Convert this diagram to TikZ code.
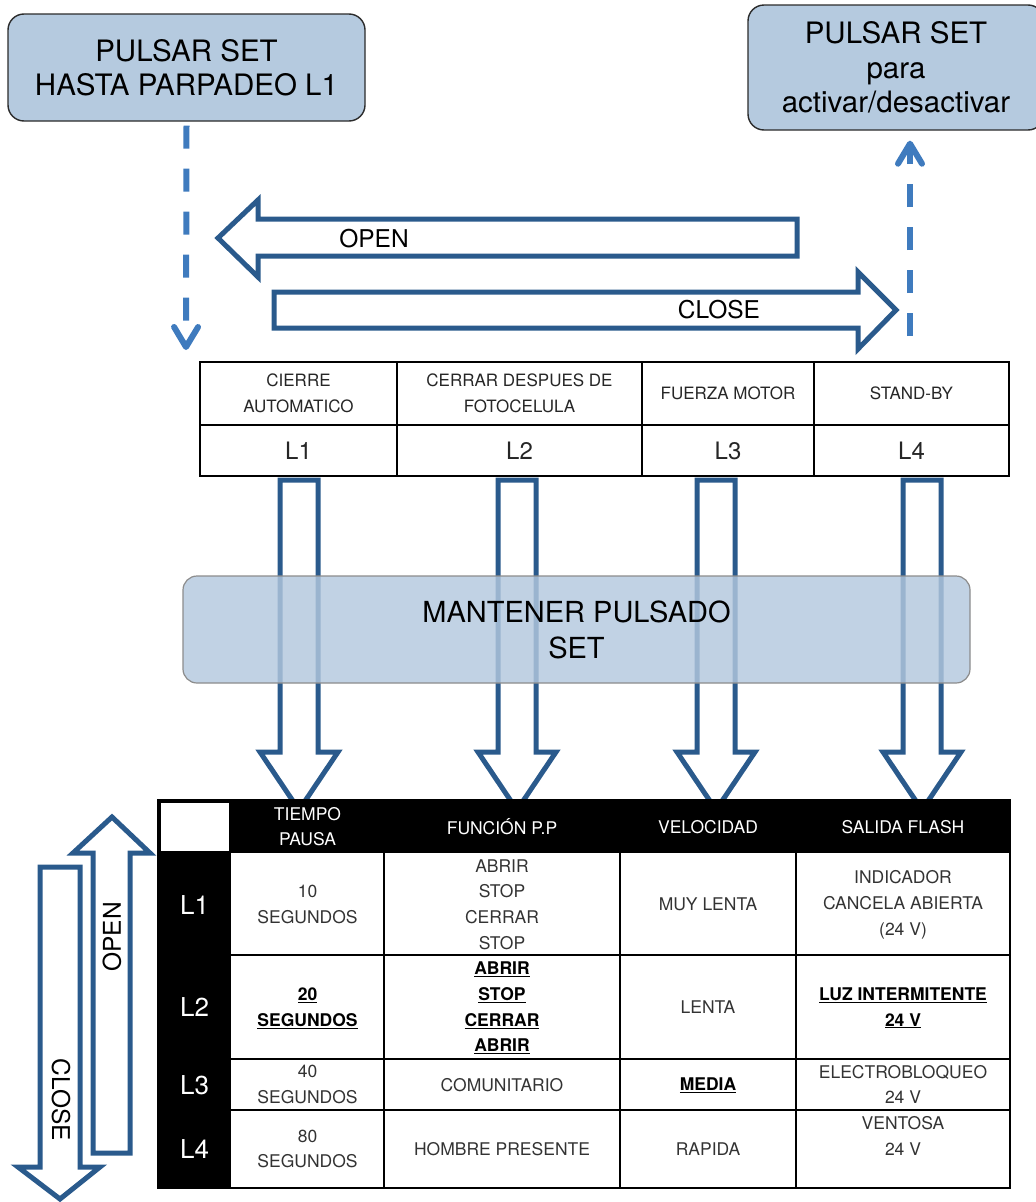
\documentclass[tikz,border=0pt]{standalone}
\usepackage{fontspec}
\setmainfont{TeX Gyre Heros}
\usetikzlibrary{arrows.meta}
\definecolor{boxfill}{HTML}{B5CADF}
\definecolor{boxline}{HTML}{2B2B2B}
\definecolor{arrowblue}{HTML}{2A5A8C}
\definecolor{dashblue}{HTML}{3F7BBE}
\definecolor{midfill}{HTML}{B3C8DE}
\definecolor{celltext}{HTML}{333333}
\tikzset{
  topbox/.style={draw=boxline, line width=1.4pt, fill=boxfill, rounded corners=16pt, align=center,
    font=\fontsize{29.5}{34.5}\selectfont, inner sep=0pt},
  dashconn/.style={draw=dashblue, line width=6pt, dash pattern=on 23pt off 20pt,
    -{Straight Barb[round, length=20pt, width=24pt, line width=6pt]}},
  blockarrow/.style={draw=arrowblue, line width=5pt, fill=white, line join=miter},
  arrowlbl/.style={font=\fontsize{24.5}{29}\selectfont, inner sep=0pt},
  midbox/.style={draw=black!45, line width=1.2pt, fill=midfill, fill opacity=0.82, text opacity=1,
    rounded corners=14pt, align=center, font=\fontsize{29}{36}\selectfont, inner sep=0pt,
    minimum width=787pt, minimum height=107pt},
  tophdr/.style={font=\fontsize{17}{26}\selectfont, align=center, text=black!85, inner sep=0pt},
  toplbl/.style={font=\fontsize{24}{28}\selectfont, text=black!85, inner sep=0pt},
  gridline/.style={line width=2pt, draw=black},
  hdrw/.style={font=\fontsize{17.5}{25}\selectfont, align=center, text=white, inner sep=0pt},
  rowlbl/.style={font=\fontsize{26}{28}\selectfont, text=white, inner sep=0pt},
  cell/.style={font=\fontsize{17.5}{25.7}\selectfont, align=center, text=celltext, inner sep=0pt},
  bcell/.style={font=\fontsize{17.5}{25.7}\selectfont\bfseries, align=center, text=black, inner sep=0pt},
}
\begin{document}
\begin{tikzpicture}[x=1pt, y=-1pt]
\useasboundingbox (0,0) rectangle (1036,1202);

% top boxes
\node[topbox, minimum width=357pt, minimum height=107pt] (tl) at (186.5,67.5) {PULSAR SET\\HASTA PARPADEO L1};
\node[topbox, minimum width=296pt, minimum height=125pt] (tr) at (896,67.5) {PULSAR SET\\para\\activar/desactivar};

% dashed connectors
\coordinate (ld) at (186,350);
\coordinate (rd) at (910,336);
\draw[dashconn] ([yshift=-4pt]tl.south) -- (ld);
\draw[dashconn, shorten >=10pt] (rd) -- (rd |- tr.south);

% OPEN / CLOSE horizontal arrows
\draw[blockarrow] (797,219) -- (258,219) -- (258,200) -- (218,238) -- (258,277) -- (258,256) -- (797,256) -- cycle;
\node[arrowlbl] (openh) at (374,239) {OPEN};
\draw[blockarrow] (274,292) -- (858,292) -- (858,272) -- (896,310) -- (858,349) -- (858,328) -- (274,328) -- cycle;
\node[arrowlbl] (closeh) at (719,310) {CLOSE};

% top table
\draw[gridline] (200,362) rectangle (1009,476);
\draw[gridline] (200,425) -- (1009,425);
\foreach \xx in {397,642,814} \draw[gridline] (\xx,362) -- (\xx,476);
\node[tophdr] (th1) at (298.5,393) {CIERRE\\AUTOMATICO};
\node[tophdr] (th2) at (519.5,393) {CERRAR DESPUES DE\\FOTOCELULA};
\node[tophdr] (th3) at (728,393) {FUERZA MOTOR};
\node[tophdr] (th4) at (911.5,393) {STAND-BY};
\node[toplbl] (tl1) at (298.5,451) {L1};
\node[toplbl] (tl2) at (519.5,451) {L2};
\node[toplbl] (tl3) at (728,451) {L3};
\node[toplbl] (tl4) at (911.5,451) {L4};

% vertical block arrows
\foreach \cx in {299,517,716,922}
  \draw[blockarrow] ({\cx-19},480) -- ({\cx+19},480) -- ({\cx+19},752) -- ({\cx+39},752)
     -- (\cx,810) -- ({\cx-39},752) -- ({\cx-19},752) -- cycle;

% middle box
\node[midbox] (mid) at (576.5,629.5) {MANTENER PULSADO\\SET};

% bottom table
\fill[black] (158,800) rectangle (1010,853);
\fill[black] (158,853) rectangle (231,1188);
\fill[white] (161,803) rectangle (229,851);
\draw[line width=2.5pt] (158,800) rectangle (1010,1188);
\foreach \yy in {955,1059,1110} \draw[line width=2.5pt] (231,\yy) -- (1010,\yy);
\foreach \xx in {384,620,796} \draw[line width=2.5pt] (\xx,853) -- (\xx,1188);

\node[hdrw] (hT) at (307.5,827) {TIEMPO\\PAUSA};
\node[hdrw] (hF) at (502,827) {FUNCIÓN P.P};
\node[hdrw] (hV) at (708,827) {VELOCIDAD};
\node[hdrw] (hS) at (903,827) {SALIDA FLASH};

\node[rowlbl] (r1) at (194.5,905) {L1};
\node[rowlbl] (r2) at (194.5,1007) {L2};
\node[rowlbl] (r3) at (194.5,1085) {L3};
\node[rowlbl] (r4) at (194.5,1149) {L4};

\node[cell] (c11) at (307.5,904.5) {10\\SEGUNDOS};
\node[cell] (c12) at (502,904.5) {ABRIR\\STOP\\CERRAR\\STOP};
\node[cell] (c13) at (708,904) {MUY LENTA};
\node[cell] (c14) at (903,905) {INDICADOR\\CANCELA ABIERTA\\(24 V)};

\node[bcell] (c21) at (307.5,1008) {\underline{20}\\\underline{SEGUNDOS}};
\node[bcell] (c22) at (502,1008) {\underline{ABRIR}\\\underline{STOP}\\\underline{CERRAR}\\\underline{ABRIR}};
\node[cell] (c23) at (708,1007) {LENTA};
\node[bcell] (c24) at (903,1008) {\underline{LUZ INTERMITENTE}\\\underline{24 V}};

\node[cell] (c31) at (307.5,1084.5) {40\\SEGUNDOS};
\node[cell] (c32) at (502,1085) {COMUNITARIO};
\node[bcell] (c33) at (708,1085) {\underline{MEDIA}};
\node[cell] (c34) at (903,1084.5) {ELECTROBLOQUEO\\24 V};

\node[cell] (c41) at (307.5,1149) {80\\SEGUNDOS};
\node[cell] (c42) at (502,1149) {HOMBRE PRESENTE};
\node[cell] (c43) at (708,1149) {RAPIDA};
\node[cell] (c44) at (903,1136) {VENTOSA\\24 V};

% left vertical OPEN / CLOSE arrows
\draw[blockarrow] (93,1153) -- (93,853) -- (73,853) -- (112,817) -- (150,853) -- (130,853) -- (130,1153) -- cycle;
\node[arrowlbl, rotate=90] (openv) at (112,937) {OPEN};
\draw[blockarrow] (40,867) -- (80,867) -- (80,1167) -- (100,1167) -- (60,1199) -- (18,1167) -- (40,1167) -- cycle;
\node[arrowlbl, rotate=-90] (closev) at (61,1100) {CLOSE};
\end{tikzpicture}
\end{document}
